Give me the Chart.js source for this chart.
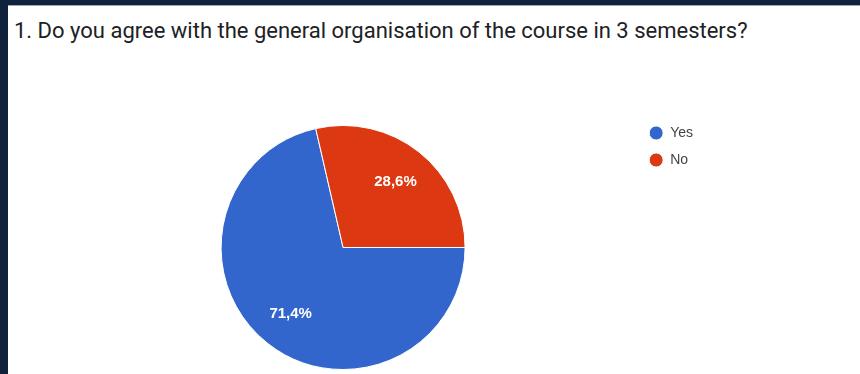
<!DOCTYPE html>
<html>
<head>
<meta charset="utf-8">
<script src="https://cdn.jsdelivr.net/npm/chart.js"></script>
<style>
  html, body { margin: 0; padding: 0; width: 860px; height: 374px; overflow: hidden; background: #10213b; }
  #panel { position: absolute; left: 8px; top: 5px; width: 852px; height: 369px; background: #fff; border-top: 1px solid #9aa9ba; overflow: hidden; }
  #question { position: absolute; left: 6px; top: 12px; font: 22px Roboto, sans-serif; color: #202124; line-height: 26px; white-space: nowrap; }
  #wrap { position: absolute; left: 0; top: 0; width: 852px; height: 380px; }
</style>
</head>
<body>
<div id="panel">
  <div id="question">1. Do you agree with the general organisation of the course in 3 semesters?</div>
  <div id="wrap"><canvas id="organisationChart"></canvas></div>
</div>
<script>
const answers = ['Yes', 'No'];
const shares = [71.4, 28.6];
const sliceColors = ['#3366cc', '#dc3912'];

// percentage labels inside the slices, like the Forms summary
const sliceLabels = {
  id: 'sliceLabels',
  afterDatasetsDraw(chart) {
    const ctx = chart.ctx;
    const meta = chart.getDatasetMeta(0);
    ctx.save();
    ctx.font = 'bold 15px "Liberation Sans", Arial, sans-serif';
    ctx.fillStyle = '#fff';
    ctx.textAlign = 'center';
    ctx.textBaseline = 'middle';
    meta.data.forEach((arc, i) => {
      const mid = (arc.startAngle + arc.endAngle) / 2;
      const r = arc.outerRadius * 0.69;
      const text = shares[i].toFixed(1).replace('.', ',') + '%';
      ctx.fillText(text, arc.x + Math.cos(mid) * r, arc.y + Math.sin(mid) * r);
    });
    ctx.restore();
  }
};

const orgCtx = document.getElementById('organisationChart');
const pieChart = new Chart(orgCtx, {
  type: 'pie',
  data: {
    labels: answers,
    datasets: [{
      data: shares,
      backgroundColor: sliceColors,
      borderColor: '#fff',
      borderWidth: 1,
      radius: 122,
    }]
  },
  options: {
    responsive: true,
    maintainAspectRatio: false,
    animation: false,
    rotation: 90,
    layout: {
      padding: { top: 107, bottom: 4, left: 42, right: 157 }
    },
    plugins: {
      tooltip: { enabled: false },
      legend: {
        position: 'right',
        align: 'start',
        labels: {
          usePointStyle: true,
          pointStyle: 'circle',
          pointStyleWidth: 14,
          boxHeight: 10,
          padding: 13,
          color: '#444',
          font: { family: 'Arial, "Liberation Sans", sans-serif', size: 14 }
        }
      }
    }
  },
  plugins: [sliceLabels]
});
</script>
</body>
</html>
